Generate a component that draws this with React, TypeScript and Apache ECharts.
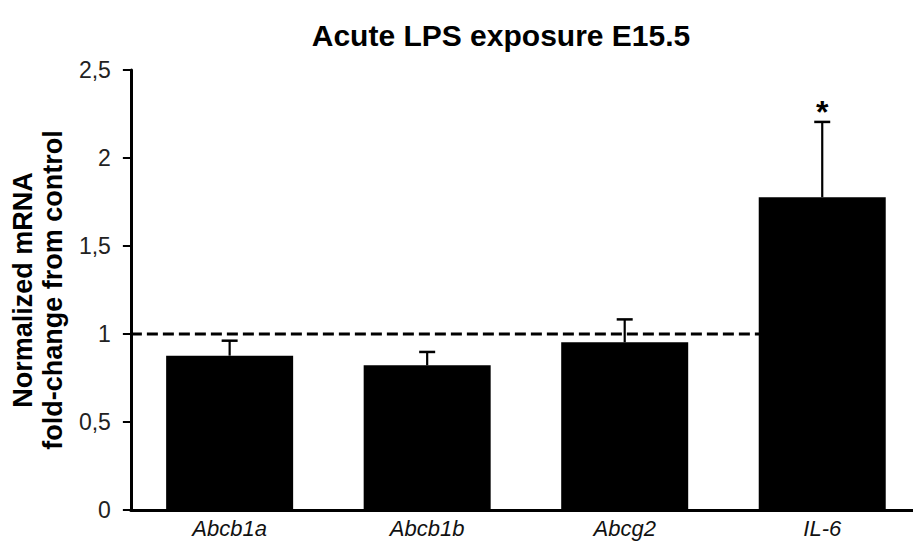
import React, { useEffect, useRef } from "react";
import * as echarts from "echarts";

const categories = ["Abcb1a", "Abcb1b", "Abcg2", "IL-6"];
const means = [0.877, 0.822, 0.953, 1.777];
const errUpper = [0.962, 0.898, 1.083, 2.205];
const significant = ["", "", "", "*"];
const referenceLevel = 1;
const yTicks = { min: 0, max: 2.5, interval: 0.5 };

const FONT = "'Liberation Sans', Arial, Helvetica, sans-serif";

export default function App() {
  const ref = useRef<HTMLDivElement>(null);
  useEffect(() => {
    if (!ref.current) return;
    const chart = echarts.init(ref.current, undefined, { renderer: "svg" });
    chart.setOption({
      animation: false,
      backgroundColor: "#ffffff",
      title: {
        text: "Acute LPS exposure E15.5",
        left: 496,
        top: 15,
        textAlign: "center",
        textStyle: { fontFamily: FONT, fontSize: 30, fontWeight: "bold", color: "#000" },
      },
      grid: { left: 125, right: -7, top: 70, bottom: 44, containLabel: false },
      xAxis: {
        type: "category",
        data: categories,
        axisLine: { lineStyle: { color: "#000", width: 3 } },
        axisTick: { alignWithLabel: true, length: 6, lineStyle: { color: "#000", width: 2 } },
        axisLabel: {
          fontFamily: FONT,
          fontSize: 22,
          fontStyle: "italic",
          color: "#111",
          margin: 7,
        },
      },
      yAxis: {
        type: "value",
        min: yTicks.min,
        max: yTicks.max,
        interval: yTicks.interval,
        name: "Normalized mRNA\nfold-change from control",
        nameLocation: "middle",
        nameRotate: 90,
        nameGap: 62,
        nameTextStyle: {
          fontFamily: FONT,
          fontSize: 27,
          fontWeight: "bold",
          color: "#000",
          lineHeight: 30,
        },
        splitLine: { show: false },
        axisLine: { show: true, lineStyle: { color: "#000", width: 3 } },
        axisTick: { show: true, length: 8, lineStyle: { color: "#000", width: 2 } },
        axisLabel: {
          fontFamily: FONT,
          fontSize: 23,
          color: "#222",
          margin: 20,
          formatter: (v: number) => String(v).replace(".", ","),
        },
      },
      series: [
        {
          type: "custom",
          z: 1,
          data: [[referenceLevel]],
          renderItem: (params: any, api: any) => {
            const cs = params.coordSys;
            const y = api.coord([0, api.value(0)])[1];
            const xEnd = api.coord([categories.length - 1, api.value(0)])[0];
            return {
              type: "line",
              shape: { x1: cs.x, y1: y, x2: xEnd, y2: y },
              style: { stroke: "#000", lineWidth: 3, lineDash: [11, 5] },
            };
          },
        },
        {
          type: "bar",
          z: 3,
          data: means,
          barWidth: 127,
          itemStyle: { color: "#000" },
        },
        {
          type: "custom",
          z: 4,
          data: categories.map((_, i) => [i, means[i], errUpper[i]]),
          renderItem: (params: any, api: any) => {
            const b = api.coord([api.value(0), api.value(1)]);
            const t = api.coord([api.value(0), api.value(2)]);
            const half = 8;
            return {
              type: "group",
              children: [
                {
                  type: "line",
                  shape: { x1: b[0], y1: b[1], x2: t[0], y2: t[1] },
                  style: { stroke: "#000", lineWidth: 2.2 },
                },
                {
                  type: "line",
                  shape: { x1: t[0] - half, y1: t[1], x2: t[0] + half, y2: t[1] },
                  style: { stroke: "#000", lineWidth: 2.5 },
                },
              ],
            };
          },
        },
        {
          type: "custom",
          z: 5,
          data: categories.map((_, i) => [i, errUpper[i], significant[i]]),
          renderItem: (params: any, api: any) => {
            const i = params.dataIndex;
            const p = api.coord([api.value(0), api.value(1)]);
            return {
              type: "text",
              x: p[0],
              y: p[1] + 6,
              style: {
                text: significant[i],
                fontFamily: FONT,
                fontSize: 32,
                fontWeight: "bold",
                fill: "#000",
                align: "center",
                verticalAlign: "bottom",
              },
            };
          },
        },
      ],
    });
    return () => chart.dispose();
  }, []);
  return <div ref={ref} style={{ width: 921, height: 554, margin: -8 }} />;
}
